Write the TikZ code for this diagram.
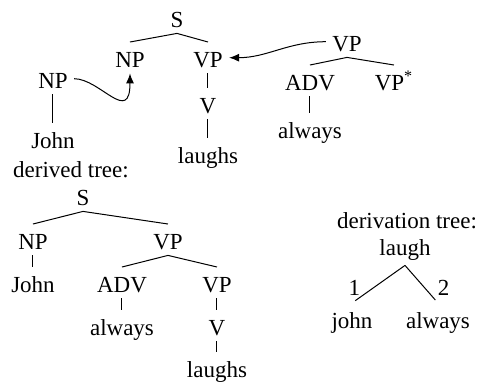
\documentclass[tikz,border=0pt]{standalone}
\usepackage{fontspec}
\setmainfont{Liberation Serif}
\usetikzlibrary{arrows.meta, positioning}

\begin{document}
\begin{tikzpicture}[
    x=0.5pt, y=0.5pt,
    font=\fontsize{11.5}{14}\selectfont,
    cat/.style={inner xsep=3pt, inner ysep=0pt, text height=12.3pt, text depth=3pt},
    caption/.style={anchor=base, inner sep=0pt},
    branch/.style={line width=0.5pt},
    adjoin/.style={-{Latex[length=5pt, width=4pt]}, line width=0.5pt},
    labelstyle/.style={inner sep=0pt},
    on grid
]
    \useasboundingbox (0,0) rectangle (479,-382);

    % Initial tree for "laughs"
    \node (sA) [cat, anchor=base] at (177,-27) {S};
    \node (npA) [cat, below left=20pt and 23.5pt of sA] {NP};
    \node (vpA) [cat, below right=20pt and 15.5pt of sA] {VP};
    \node (vA) [cat, below=23pt of vpA] {V};
    \node (laughsA) [cat, below=25pt of vA] {laughs};

    % Initial tree for "John"
    \node (npB) [cat, anchor=base] at (53,-88) {NP};
    \node (johnB) [cat, below=30pt of npB] {John};

    % Auxiliary tree for "always"
    \node (vpC) [cat, anchor=base] at (347,-51) {VP};
    \node (advC) [cat, below left=19.5pt and 18.5pt of vpC] {ADV};
    \node (footC) [cat, below right=19.5pt and 23.5pt of vpC] {VP\textsuperscript{*}};
    \node (alwaysC) [cat, below=24pt of advC] {always};

    \draw [branch] (sA.south) -- (npA.north);
    \draw [branch] (sA.south) -- (vpA.north);
    \draw [branch] (vpA.south) -- (vA.north);
    \draw [branch] (vA.south) -- (laughsA.north);
    \draw [branch] (npB.south) -- (johnB.north);
    \draw [branch] (vpC.south) -- (advC.north);
    \draw [branch] (vpC.south) -- (footC.north);
    \draw [branch] (advC.south) -- (alwaysC.north);

    % Substitution and adjunction
    \draw [adjoin] (npB.east) .. controls +(13pt,0pt) and +(0pt,-26pt) .. (npA.south);
    \draw [adjoin] (vpC.west) to[out=180, in=0] (vpA.east);

    % Derived tree
    \node (derived) [caption] at (71,-177) {derived tree:};
    \node (sD) [cat, anchor=base] at (83,-205) {S};
    \node (npD) [cat, below left=22pt and 25pt of sD] {NP};
    \node (vpD) [cat, below right=22pt and 42.5pt of sD] {VP};
    \node (johnD) [cat, below=21.5pt of npD] {John};
    \node (advD) [cat, below left=21.5pt and 23pt of vpD] {ADV};
    \node (vpE) [cat, below right=21.5pt and 24.5pt of vpD] {VP};
    \node (alwaysD) [cat, below=21.5pt of advD] {always};
    \node (vD) [cat, below=21.5pt of vpE] {V};
    \node (laughsD) [cat, below=21pt of vD] {laughs};

    \draw [branch] (sD.south) -- (npD.north);
    \draw [branch] (sD.south) -- (vpD.north);
    \draw [branch] (npD.south) -- (johnD.north);
    \draw [branch] (vpD.south) -- (advD.north);
    \draw [branch] (vpD.south) -- (vpE.north);
    \draw [branch] (advD.south) -- (alwaysD.north);
    \draw [branch] (vpE.south) -- (vD.north);
    \draw [branch] (vD.south) -- (laughsD.north);

    % Derivation tree
    \node (derivation) [caption] at (407,-228) {derivation tree:};
    \node (laughT) [cat, anchor=base] at (405,-255) {laugh};
    \node (johnT) [cat, below left=36.5pt and 26.5pt of laughT] {john};
    \node (alwaysT) [cat, below right=36.5pt and 16.5pt of laughT] {always};

    \draw [branch, shorten >=2pt] ([yshift=-2pt]laughT.south) -- node[labelstyle, midway, anchor=east, xshift=-8.9pt, yshift=-2pt] {1} (johnT.north);
    \draw [branch, shorten >=2pt] ([yshift=-2pt]laughT.south) -- node[labelstyle, midway, anchor=west, xshift=7.9pt, yshift=-2pt] {2} (alwaysT.north);
\end{tikzpicture}
\end{document}
